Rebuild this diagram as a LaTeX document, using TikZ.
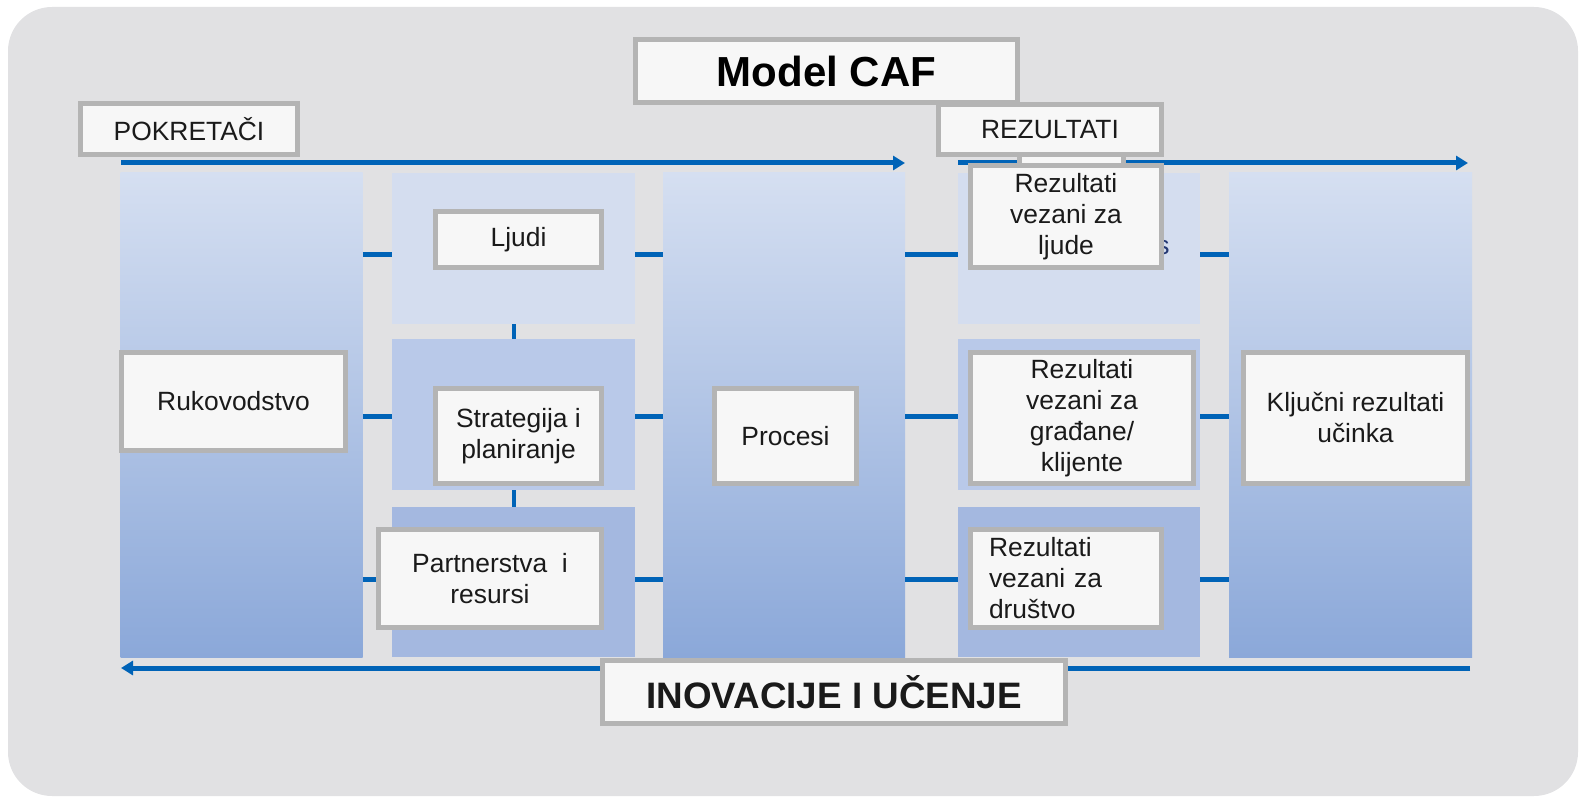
\documentclass[tikz,border=0pt]{standalone}
\usepackage{fontspec}
\setmainfont{Liberation Sans}
\usetikzlibrary{arrows.meta}
\definecolor{panel}{RGB}{225,225,227}
\definecolor{flow}{RGB}{0,99,183}
\definecolor{coltop}{RGB}{213,223,241}
\definecolor{colbot}{RGB}{139,168,217}
\definecolor{cellA}{RGB}{212,221,239}
\definecolor{cellB}{RGB}{185,201,233}
\definecolor{cellC}{RGB}{164,184,224}
\definecolor{frame}{RGB}{180,180,180}
\definecolor{paper}{RGB}{247,247,247}
\definecolor{ink}{RGB}{26,26,26}
\definecolor{navy}{RGB}{35,55,115}

\begin{document}
\begin{tikzpicture}[x=0.5pt,y=-0.5pt] %% 1px = 0.5pt
	\tikzstyle{stup}=[inner sep=0pt,minimum width=121pt,minimum height=242pt,top color=coltop,bottom color=colbot];
	\tikzstyle{polje}=[inner sep=0pt,minimum width=121pt,minimum height=75.5pt];
	\tikzstyle{okvir}=[draw=frame,line width=2.5pt,fill=paper,inner sep=0pt,align=center,text=ink,font=\fontsize{13.2}{15.5}\selectfont];
	\tikzstyle{veza}=[draw=flow,line width=2.5pt];
	\tikzstyle{tok}=[draw=flow,line width=2.5pt,-{Triangle[length=6pt,width=7pt]}];
	\useasboundingbox (0,0) rectangle (1580,797);
	\fill[panel,rounded corners=22pt] (8,7) rectangle (1578,796);
	%% flow arrows
	\coordinate (g1) at (121,163); \coordinate (g2) at (905,163);
	\coordinate (g3) at (958,163); \coordinate (g4) at (1468,163);
	\coordinate (d1) at (1470,668); \coordinate (d2) at (121,668);
	\draw[tok] (g1) -- (g2);
	\draw[tok] (g3) -- (g4);
	\draw[tok] (d1) -- (d2);
	%% columns
	\node[stup] (c1) at (241.5,415) {};
	\node[stup] (c3) at (784,415) {};
	\node[stup,minimum width=121.5pt] (c5) at (1350.5,415) {};
	\node[polje,fill=cellA,minimum width=121.5pt] (c2a) at (513.5,248.5) {};
	\node[polje,fill=cellB,minimum width=121.5pt] (c2b) at (513.5,414.5) {};
	\node[polje,fill=cellC,minimum width=121.5pt,minimum height=75pt] (c2c) at (513.5,582) {};
	\node[polje,fill=cellA] (c4a) at (1079,248.5) {};
	\node[polje,fill=cellB] (c4b) at (1079,414.5) {};
	\node[polje,fill=cellC,minimum height=75pt] (c4c) at (1079,582) {};
	%% links between columns
	\coordinate (r1) at (0,254); \coordinate (r2) at (0,416); \coordinate (r3) at (0,579);
	\foreach \r/\s in {1/a,2/b,3/c}{
		\draw[veza] (c1.east |- r\r) -- (c2\s.west |- r\r);
		\draw[veza] (c2\s.east |- r\r) -- (c3.west |- r\r);
		\draw[veza] (c3.east |- r\r) -- (c4\s.west |- r\r);
		\draw[veza] (c4\s.east |- r\r) -- (c5.west |- r\r);
	}
	\draw[veza,line width=2pt] (c2a) -- (c2b);
	\draw[veza,line width=2pt] (c2b) -- (c2c);
	%% labels
	\node[okvir,minimum width=191pt,minimum height=31.5pt,text=black,font=\bfseries\fontsize{21}{25}\selectfont] (naslov) at (826.5,71) {Model CAF};
	\node[okvir,minimum width=108.5pt,minimum height=25.5pt] (pok) at (189,129) {POKRETAČI};
	\node[okvir,minimum width=52pt,minimum height=11.5pt] (umetak) at (1071.5,154) {};
	\node[okvir,minimum width=111.5pt,minimum height=25pt] (rez) at (1050,129.5) {REZULTATI};
	\node[text=navy,inner sep=0pt,font=\fontsize{13.2}{15.5}\selectfont] (trag) at (1163,248) {s};
	\node[okvir,minimum width=83pt,minimum height=28pt] (ljudi) at (518.5,239.5) {Ljudi};
	\node[okvir,minimum width=112pt,minimum height=49pt] (ruk) at (233.5,401.5) {Rukovodstvo};
	\node[okvir,minimum width=83pt,minimum height=47.5pt] (strat) at (518.5,436) {Strategija i\\planiranje};
	\node[okvir,minimum width=71pt,minimum height=47.5pt] (proc) at (785.5,436) {Procesi};
	\node[okvir,minimum width=111.5pt,minimum height=49pt] (part) at (490,578.5) {Partnerstva\ \ i\\resursi};
	\node[okvir,minimum width=95.5pt,minimum height=51pt] (rljudi) at (1066,216.5) {Rezultati\\vezani za\\ljude};
	\node[okvir,minimum width=111.5pt,minimum height=65.5pt] (rgrad) at (1082,418) {Rezultati\\vezani za\\građane/\\klijente};
	\node[okvir,minimum width=95.5pt,minimum height=49pt,text width=77pt,inner xsep=9.25pt,align=left] (rdrus) at (1066,578.5) {Rezultati\\vezani za\\društvo};
	\node[okvir,minimum width=112pt,minimum height=65.5pt] (kljuc) at (1355.5,418) {Ključni rezultati\\učinka};
	\node[okvir,minimum width=231.5pt,minimum height=31.5pt,font=\bfseries\fontsize{18.4}{22}\selectfont] (inov) at (834,692) {INOVACIJE I UČENJE};
\end{tikzpicture}
\end{document}
